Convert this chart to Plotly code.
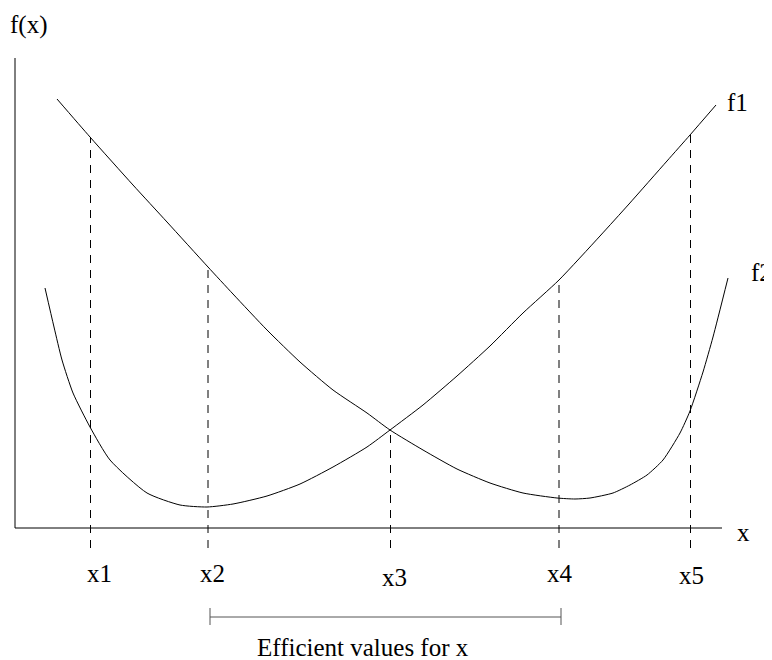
import numpy as np
import plotly.graph_objects as go

# 坐标单位：原点在两轴交点，x 向右、y 向上
# f1：左侧陡降、右侧缓升的曲线
f1_x = [30, 39, 47, 58, 75, 95, 132, 165, 192, 218, 252, 285, 318, 352, 375,
        408, 442, 475, 508, 544, 585, 614, 652, 675, 701]
f1_y = [240, 201, 168, 135, 101, 68, 35, 23, 21, 24, 32, 44, 61, 81, 98,
        123, 152, 182, 215, 248, 292, 324, 367, 393, 423]

# f2：左侧缓降、右侧陡升的曲线
f2_x = [42, 75, 118, 152, 193, 218, 252, 285, 318, 352, 375, 408, 442, 475,
        508, 542, 560, 575, 598, 615, 632, 648, 665, 675, 688, 698, 713]
f2_y = [429, 391, 343, 306, 261, 234, 198, 166, 138, 115, 98, 78, 59, 45,
        35, 30, 29, 30, 35, 43, 53, 68, 95, 117, 156, 191, 250]

# 垂直虚线 x1..x5
drop_labels = ['x1', 'x2', 'x3', 'x4', 'x5']
drop_x = [75.5, 193, 375.5, 544, 675.5]
drop_top = [391, 261, 98, 248, 393]
drop_bottom = -20

# 轴长度
x_axis_len = 707
y_axis_len = 470

# 有效区间
efficient_range = [195, 546]

FONT = dict(family='Liberation Serif, Times New Roman, serif', size=25, color='black')
LINE = dict(color='black', width=1)

fig = go.Figure()

# 坐标轴
fig.add_trace(go.Scatter(x=[0, 0, x_axis_len], y=[y_axis_len, 0, 0],
                         mode='lines', line=LINE, hoverinfo='skip'))

# 曲线
fig.add_trace(go.Scatter(x=f1_x, y=f1_y, mode='lines', name='f1',
                         line=dict(color='black', width=1, shape='spline', smoothing=0.6)))
fig.add_trace(go.Scatter(x=f2_x, y=f2_y, mode='lines', name='f2',
                         line=dict(color='black', width=1, shape='spline', smoothing=0.6)))

# 虚线
for xv, top in zip(drop_x, drop_top):
    fig.add_trace(go.Scatter(x=[xv, xv], y=[drop_bottom, top], mode='lines',
                             line=dict(color='black', width=1, dash='8px,7px'),
                             hoverinfo='skip'))

# 区间括号
bx0, bx1 = efficient_range
fig.add_trace(go.Scatter(x=[bx0, bx0, None, bx0, bx1, None, bx1, bx1],
                         y=[-80, -97, None, -89, -89, None, -80, -97],
                         mode='lines', line=dict(color='#555555', width=1),
                         hoverinfo='skip'))

# 文字
label_offset = [8, 4, 3, 1, 0]
label_y = [-45, -45, -49, -45, -47]
for lab, xv, dx, ly in zip(drop_labels, drop_x, label_offset, label_y):
    fig.add_annotation(x=round(xv) + dx, y=ly, text=lab, showarrow=False, font=FONT)

fig.add_annotation(x=13, y=503, text='f(x)', showarrow=False, font=FONT)
fig.add_annotation(x=728, y=-4, text='x', showarrow=False, font=FONT)
fig.add_annotation(x=722, y=426, text='f1', showarrow=False, font=FONT)
fig.add_annotation(x=746, y=256, text='f2', showarrow=False, font=FONT)
fig.add_annotation(x=(bx0 + bx1) / 2 - 23, y=-119, text='Efficient values for x',
                   showarrow=False, font=FONT)

# 页面 body 有 8px 边距，坐标范围据此平移
fig.update_layout(
    width=772, height=660,
    margin=dict(l=0, r=0, t=0, b=0),
    plot_bgcolor='white', paper_bgcolor='white',
    showlegend=False,
    xaxis=dict(range=[-7, 765], visible=False),
    yaxis=dict(range=[-140, 520], visible=False),
)

fig.write_html("out.html")
